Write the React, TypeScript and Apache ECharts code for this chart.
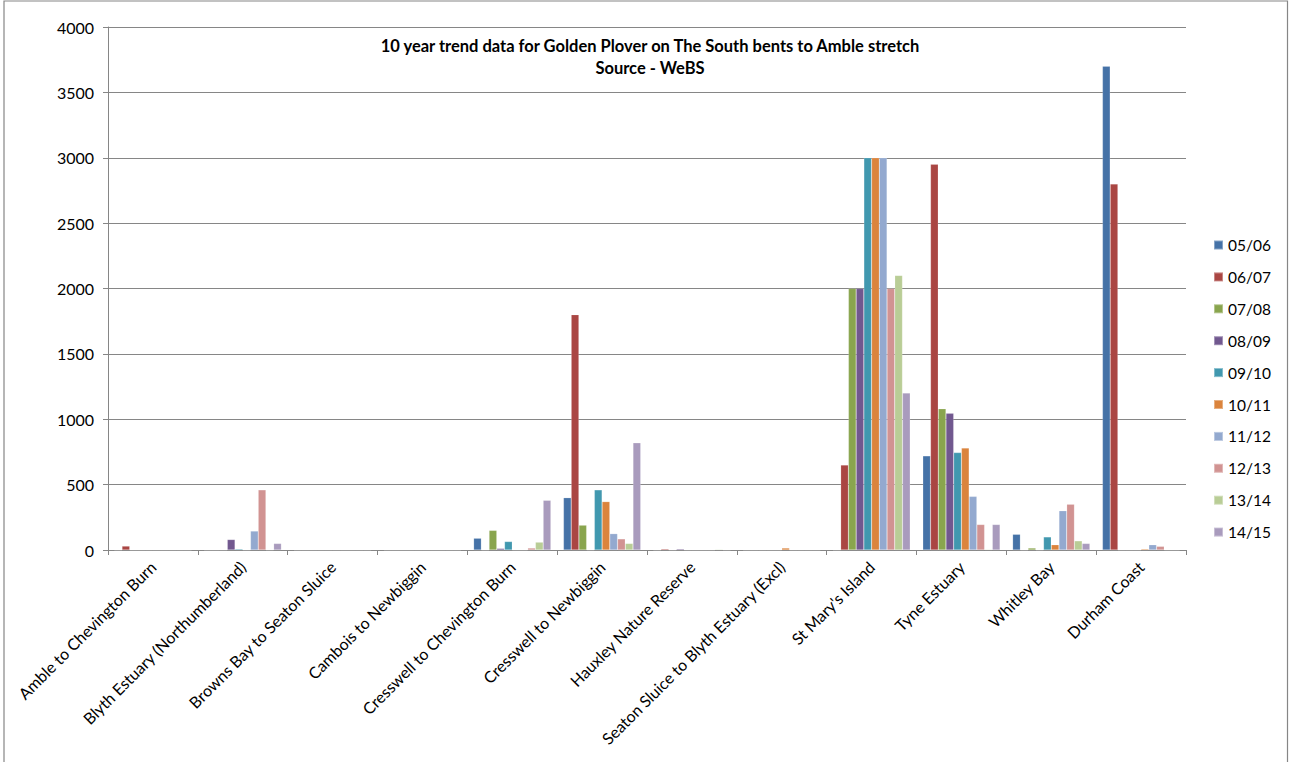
import React, { useEffect, useRef } from "react";
import * as echarts from "echarts";

const sites = [
  "Amble to Chevington Burn",
  "Blyth Estuary (Northumberland)",
  "Browns Bay to Seaton Sluice",
  "Cambois to Newbiggin",
  "Cresswell to Chevington Burn",
  "Cresswell to Newbiggin",
  "Hauxley Nature Reserve",
  "Seaton Sluice to Blyth Estuary (Excl)",
  "St Mary's Island",
  "Tyne Estuary",
  "Whitley Bay",
  "Durham Coast",
];

const seasons = ["05/06", "06/07", "07/08", "08/09", "09/10", "10/11", "11/12", "12/13", "13/14", "14/15"];

const seasonColors = [
  "#4572A7", "#AA4643", "#89A54E", "#71588F", "#4198AF",
  "#DB843D", "#93A9CF", "#D19392", "#B9CD96", "#A99BBD",
];

// Counts per site, one array per season
const s0506 = [0, 0, 0, 0, 90, 400, 0, 0, 0, 720, 120, 3700];
const s0607 = [30, 0, 0, 0, 0, 1800, 8, 0, 650, 2950, 0, 2800];
const s0708 = [0, 0, 0, 0, 150, 190, 0, 0, 2000, 1080, 15, 0];
const s0809 = [0, 80, 0, 0, 12, 0, 8, 0, 2000, 1045, 0, 0];
const s0910 = [0, 8, 0, 0, 65, 460, 0, 0, 3000, 745, 100, 0];
const s1011 = [0, 0, 0, 0, 0, 370, 0, 15, 3000, 780, 40, 8];
const s1112 = [0, 145, 0, 0, 0, 125, 0, 0, 3000, 410, 300, 40];
const s1213 = [0, 460, 0, 0, 15, 85, 0, 0, 2000, 195, 350, 28];
const s1314 = [0, 0, 0, 0, 60, 50, 5, 0, 2100, 5, 70, 0];
const s1415 = [0, 50, 0, 0, 380, 820, 0, 0, 1200, 195, 50, 0];

const seasonValues = [s0506, s0607, s0708, s0809, s0910, s1011, s1112, s1213, s1314, s1415];

const yTicks = { min: 0, max: 4000, interval: 500 };

const FONT = "Lato, 'Open Sans', sans-serif";

export default function App() {
  const ref = useRef<HTMLDivElement>(null);

  useEffect(() => {
    document.body.style.margin = "0";
    const chart = echarts.init(ref.current!, undefined, { renderer: "svg" });
    chart.setOption({
      animation: false,
      backgroundColor: "#ffffff",
      textStyle: { fontFamily: FONT },
      title: {
        text: "10 year trend data for Golden Plover on The South bents to Amble stretch\nSource - WeBS",
        left: 645,
        top: 30,
        textAlign: "center",
        textStyle: { fontFamily: FONT, fontSize: 16.5, fontWeight: "bold", color: "#000", lineHeight: 22 },
      },
      legend: {
        orient: "vertical",
        left: 1208,
        top: 232,
        itemWidth: 9,
        itemHeight: 9,
        itemGap: 15.9,
        icon: "rect",
        data: seasons,
        textStyle: { fontFamily: FONT, fontSize: 15.5, color: "#000", padding: [0, 0, 0, 0] },
      },
      grid: { left: 108, right: 104, top: 27, bottom: 212, containLabel: false },
      xAxis: {
        type: "category",
        data: sites,
        axisLine: { lineStyle: { color: "#868686" } },
        axisTick: { show: true, length: 5, lineStyle: { color: "#868686" } },
        axisLabel: { rotate: 45, fontFamily: FONT, fontSize: 16, color: "#000", interval: 0, margin: 14 },
      },
      yAxis: {
        type: "value",
        min: yTicks.min,
        max: yTicks.max,
        interval: yTicks.interval,
        axisLine: { show: true, lineStyle: { color: "#868686" } },
        axisTick: { show: true, length: 5, lineStyle: { color: "#868686" } },
        axisLabel: {
          fontFamily: FONT,
          fontSize: 16,
          color: "#000",
          margin: 14,
          formatter: (v: number) => String(v),
        },
        splitLine: { lineStyle: { color: "#868686" } },
      },
      series: seasons.map((name, i) => ({
        name,
        type: "bar",
        data: seasonValues[i],
        barGap: "0%",
        barCategoryGap: "14%",
        itemStyle: { color: seasonColors[i], borderColor: "rgba(255,255,255,0.35)", borderWidth: 0.5 },
      })),
      graphic: [
        {
          type: "rect",
          shape: { x: 4, y: 1, width: 1283.5, height: 800 },
          style: { fill: "none", stroke: "#868686", lineWidth: 1.2 },
          silent: true,
        },
      ],
    });
    return () => chart.dispose();
  }, []);

  return <div ref={ref} style={{ width: 1290, height: 762 }} />;
}
